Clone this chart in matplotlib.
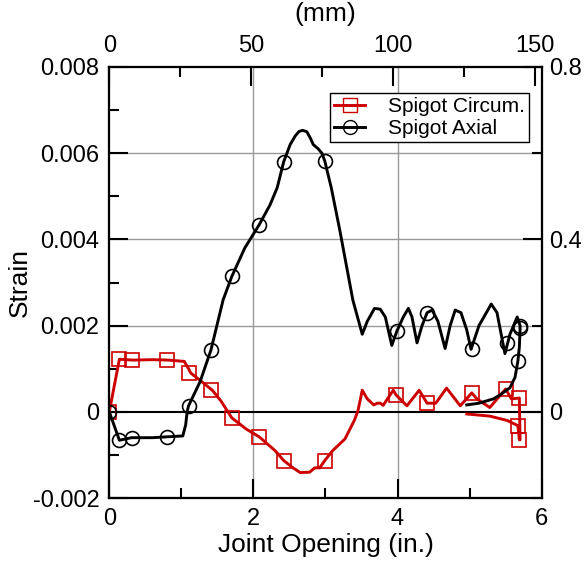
import matplotlib.pyplot as plt
from matplotlib.ticker import FixedLocator, FuncFormatter
from matplotlib.lines import Line2D

plt.rcParams['font.family'] = ['Liberation Sans', 'DejaVu Sans']

# Spigot circumferential strain (line)
circ_x = [0, 0.14, 0.33, 0.6, 0.82, 1.04, 1.1, 1.13, 1.23, 1.43, 1.55, 1.7, 1.9,
          2.08, 2.3, 2.42, 2.55, 2.65, 2.78, 2.85, 2.92, 2.99, 3.1, 3.27, 3.4,
          3.45, 3.51, 3.58, 3.67, 3.72, 3.76, 3.8, 3.94, 3.98, 4.13, 4.3, 4.41,
          4.53, 4.68, 4.87, 5.03, 5.1, 5.28, 5.5, 5.58, 5.69, 5.7, 5.69,
          5.67, 5.52, 5.28, 4.96]
circ_y = [0, 0.00122, 0.0012, 0.00121, 0.0012, 0.00117, 0.001, 0.0009, 0.00077,
          0.0005, 0.00025, -0.00014, -0.0004, -0.00058, -0.0009, -0.00113,
          -0.0013, -0.00141, -0.0014, -0.0013, -0.0013, -0.00113, -0.0009,
          -0.00063, -0.0002, 0.00002, 0.0005, 0.0003, 0.00016, 0.0002, 0.0002,
          0.00015, 0.0005, 0.00039, 0.00014, 0.0005, 0.0002, 0.0002, 0.00055,
          0.00014, 0.00044, 0.0003, 0.0001, 0.00053, 0.0003, 0.00032, -0.00065,
          -0.00065, -0.00032, -0.0002, -0.0001, -0.00005]

# Spigot axial strain (line)
ax_x = [0, 0.14, 0.31, 0.6, 0.8, 1.02, 1.06, 1.08, 1.1, 1.26, 1.41, 1.58, 1.7,
        1.88, 2.08, 2.23, 2.33, 2.42, 2.51, 2.58, 2.63, 2.68, 2.74, 2.79, 2.83,
        2.9, 2.95, 2.99, 3.08, 3.2, 3.38, 3.51, 3.58, 3.68, 3.76, 3.83, 3.92,
        3.99, 4.08, 4.15, 4.2, 4.27, 4.34, 4.41, 4.48, 4.56, 4.66, 4.73, 4.8,
        4.88, 4.96, 5.02, 5.13, 5.3, 5.38, 5.49, 5.56, 5.66, 5.7, 5.7, 5.69,
        5.67, 5.63, 5.56, 5.43, 5.33, 5.13, 4.96]
ax_y = [0, -0.00066, -0.0006, -0.0006, -0.00058, -0.00056, -0.0003, 0, 0.00014,
        0.0007, 0.00143, 0.0026, 0.00314, 0.0038, 0.00434, 0.0048, 0.0052,
        0.0058, 0.0062, 0.0064, 0.0065, 0.00653, 0.0065, 0.00635, 0.0062,
        0.0061, 0.006, 0.00582, 0.0052, 0.0042, 0.00259, 0.0018, 0.0021, 0.0024,
        0.00238, 0.0022, 0.00154, 0.00187, 0.0022, 0.0024, 0.0022, 0.0016,
        0.002, 0.0023, 0.00236, 0.0021, 0.00147, 0.002, 0.00236, 0.0023, 0.0019,
        0.00145, 0.002, 0.0025, 0.0023, 0.00135, 0.0018, 0.0022, 0.002, 0.0019,
        0.0015, 0.00118, 0.0008, 0.00056, 0.0004, 0.0003, 0.0002, 0.00016]

# marker positions
circ_mx = [0, 0.135, 0.31, 0.8, 1.1, 1.41, 1.7, 2.08, 2.42, 2.99, 3.98, 4.41,
           5.03, 5.5, 5.69, 5.69, 5.67]
circ_my = [0, 0.00122, 0.0012, 0.0012, 0.0009, 0.0005, -0.00014, -0.00058,
           -0.00113, -0.00113, 0.00039, 0.0002, 0.00044, 0.00053, 0.00032,
           -0.00065, -0.00032]
ax_mx = [0, 0.135, 0.31, 0.8, 1.1, 1.41, 1.7, 2.08, 2.42, 2.99, 3.99, 4.41,
         5.03, 5.52, 5.7, 5.7, 5.67]
ax_my = [0, -0.00065, -0.0006, -0.00058, 0.00014, 0.00143, 0.00314, 0.00434,
         0.0058, 0.00582, 0.00187, 0.0023, 0.00145, 0.0016, 0.002, 0.00195,
         0.00118]

# tick values
x_major = [0, 2, 4, 6]
x_minor = [1, 3, 5]
y_major = [-0.002, 0, 0.002, 0.004, 0.006, 0.008]
y_minor = [-0.001, 0.001, 0.003, 0.005, 0.007]
mm_major = [0, 50, 100, 150]
mm_minor = [25, 75, 125]
r_major = [0, 0.4, 0.8]
r_minor = [-0.2, 0.2, 0.6]

red = '#cc0000'

fig = plt.figure(figsize=(5.87, 5.71), dpi=100)
ax = fig.add_axes([0.1862, 0.1278, 0.7366, 0.7549])

ax.axvline(2, color='#999999', lw=1, zorder=0)
ax.axvline(4, color='#999999', lw=1, zorder=0)
for g in [0.002, 0.004, 0.006]:
    ax.axhline(g, color='#999999', lw=1, zorder=0)
ax.axhline(0, color='black', lw=1.5, zorder=1)

ax.plot(circ_x, circ_y, color=red, lw=2.1, zorder=3, solid_joinstyle='round')
ax.plot(circ_mx, circ_my, 's', ms=10, mfc='none', mec=red, mew=1.2, zorder=3)
ax.plot(ax_x, ax_y, color='black', lw=2.1, zorder=4, solid_joinstyle='round')
ax.plot(ax_mx, ax_my, 'o', ms=10, mfc='none', mec='black', mew=1.2, zorder=4)

ax.set_xlim(0, 6)
ax.set_ylim(-0.002, 0.008)
ax.xaxis.set_major_locator(FixedLocator(x_major))
ax.xaxis.set_minor_locator(FixedLocator(x_minor))
ax.yaxis.set_major_locator(FixedLocator(y_major))
ax.yaxis.set_minor_locator(FixedLocator(y_minor))
ax.yaxis.set_major_formatter(FuncFormatter(lambda v, p: '0' if abs(v) < 1e-9 else f'{v:.3f}'))

tick_kw = dict(direction='in', labelsize=17, width=1.5)
ax.tick_params(which='major', length=14, pad=7, **tick_kw)
ax.tick_params(which='minor', length=7, direction='in', width=1.5)
for s in ax.spines.values():
    s.set_linewidth(1.5)

# top axis in mm
top = ax.twiny()
top.set_xlim(0, 6 * 25.4)
top.xaxis.set_major_locator(FixedLocator(mm_major))
top.xaxis.set_minor_locator(FixedLocator(mm_minor))
top.tick_params(which='major', length=14, pad=7, **tick_kw)
top.tick_params(which='minor', length=7, direction='in', width=1.5)
top.set_xlabel('(mm)', fontsize=19, labelpad=10)

# right axis
right = ax.twinx()
right.set_ylim(-0.2, 0.8)
right.yaxis.set_major_locator(FixedLocator(r_major))
right.yaxis.set_minor_locator(FixedLocator(r_minor))
right.yaxis.set_major_formatter(FuncFormatter(lambda v, p: '0' if abs(v) < 1e-9 else f'{v:.1f}'))
right.tick_params(which='major', length=14, pad=5, **tick_kw)
right.tick_params(which='minor', length=7, direction='in', width=1.5)
for a in (top, right):
    for s in a.spines.values():
        s.set_linewidth(1.5)

ax.set_xlabel('Joint Opening (in.)', fontsize=19, labelpad=2)
ax.set_ylabel('Strain', fontsize=19, labelpad=1)

handles = [Line2D([], [], color=red, lw=2.1, marker='s', ms=10, mfc='none', mec=red),
           Line2D([], [], color='black', lw=2.1, marker='o', ms=10, mfc='none', mec='black')]
leg = right.legend(handles, ['Spigot Circum.', 'Spigot Axial'], loc='upper right',
                   bbox_to_anchor=(0.971, 0.94), borderaxespad=0, fontsize=15,
                   frameon=True, fancybox=False, edgecolor='black', framealpha=1,
                   handlelength=1.5, handletextpad=1.1, labelspacing=0.15,
                   borderpad=0.2)
leg.get_frame().set_linewidth(1)

fig.savefig('out.png', dpi=100)
